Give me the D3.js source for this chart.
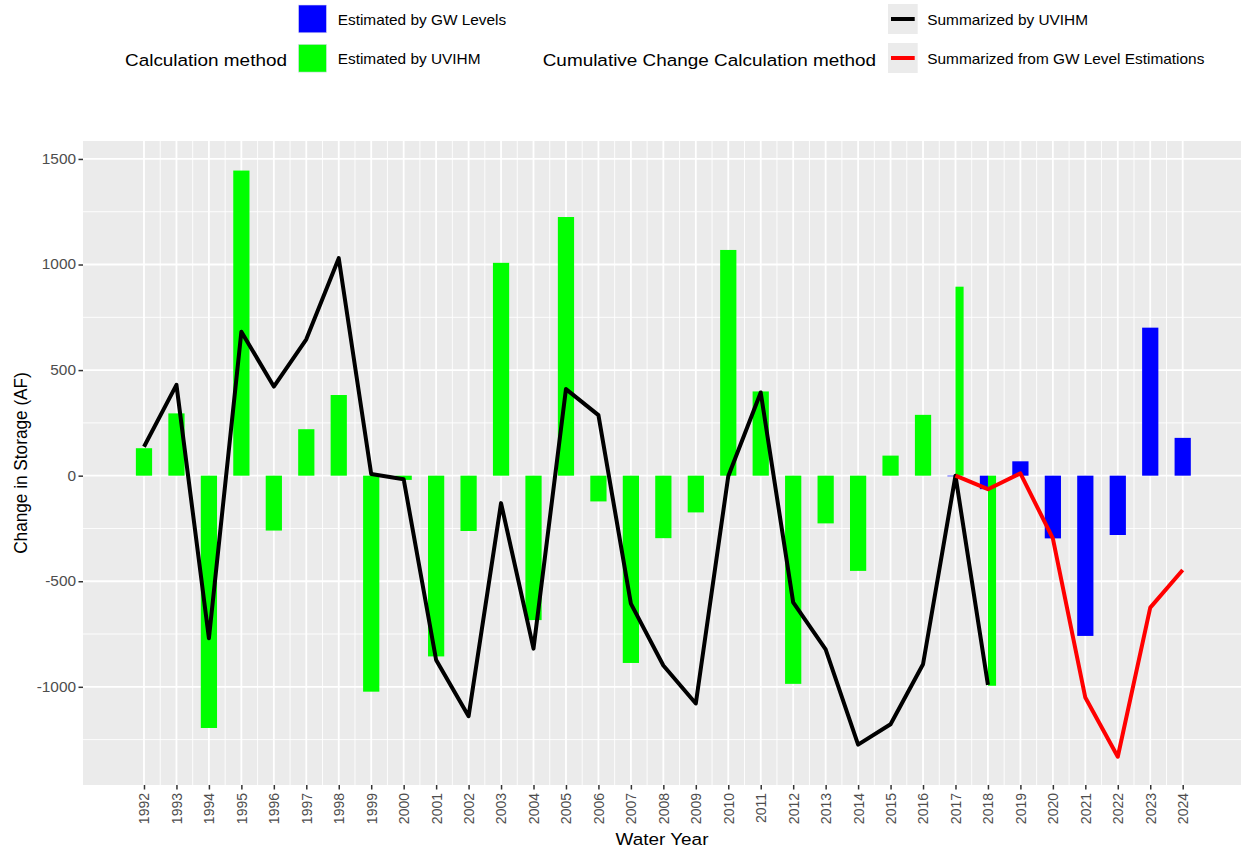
<!DOCTYPE html>
<html>
<head>
<meta charset="utf-8">
<script src="https://cdn.jsdelivr.net/npm/d3@7"></script>
<style>
  body { margin: 0; background: #fff; }
  text { font-family: "Liberation Sans", Arial, sans-serif; }
</style>
</head>
<body>
<script>
// ================================
// DATA
// ================================
var years = d3.range(1992, 2025);

// bars: yearly change estimated by UVIHM model (1992-2018)
var uvihmYears = d3.range(1992, 2019);
var uvihmBars = [130, 295, -1195, 1445, -260, 220, 382, -1023, -20, -856,
                 -262, 1008, -684, 1225, -122, -887, -296, -174, 1069, 399,
                 -986, -226, -451, 95, 288, 895, -995];

// bars: yearly change estimated by GW levels (2017-2024)
var gwYears = d3.range(2017, 2025);
var gwBars = [-3, -64, 68, -297, -759, -281, 701, 179];

// lines: cumulative change
var uvihmLine = [137, 430, -770, 682, 422, 646, 1030, 8, -17, -873,
                 -1139, -130, -819, 410, 287, -606, -899, -1079, -3, 394,
                 -600, -823, -1274, -1177, -893, 0, -991];
var gwLine = [0, -64, 11, -297, -1051, -1331, -625, -447];

var yTicks = [-1000, -500, 0, 500, 1000, 1500];

var fillLegend = ["Estimated by GW Levels", "Estimated by UVIHM"];
var lineLegend = ["Summarized by UVIHM", "Summarized from GW Level Estimations"];

var GREEN = "#00FF00", BLUE = "#0000FF", RED = "#FF0000";

// ================================
// SETUP
// ================================
var width = 1241, height = 853;
var SX = 1.1;   // text in the reference is a little stretched horizontally

var svg = d3.select("body").append("svg")
    .attr("width", width)
    .attr("height", height);

var panel = {left: 83, right: 1241, top: 141, bottom: 785};

var x = d3.scaleLinear()
    .domain([1990.121, 2025.796])
    .range([panel.left, panel.right]);

var y = d3.scaleLinear()
    .domain([-1465, 1585])
    .range([panel.bottom, panel.top]);

var unit = x(1993) - x(1992);

// helper for stretched text
function addText(g, px, py, str, size, anchor, rot){
    return g.append("text")
        .attr("transform", "translate(" + px + "," + py + ") scale(" + SX + ",1)" + (rot ? " rotate(" + rot + ")" : ""))
        .attr("text-anchor", anchor || "start")
        .style("font-size", size + "px")
        .text(str);
}

// ================================
// PANEL + GRID
// ================================
svg.append("rect")
    .attr("x", panel.left).attr("y", panel.top)
    .attr("width", panel.right - panel.left)
    .attr("height", panel.bottom - panel.top)
    .attr("fill", "#EBEBEB");

var minorX = years.slice(0, -1).map(function(d){ return d + 0.5; });
var minorY = [-1250, -750, -250, 250, 750, 1250];

var grid = svg.append("g");

grid.selectAll(".minorY").data(minorY).enter().append("line")
    .attr("x1", panel.left).attr("x2", panel.right)
    .attr("y1", function(d){ return y(d); }).attr("y2", function(d){ return y(d); })
    .attr("stroke", "#fff").attr("stroke-width", 0.9);

grid.selectAll(".minorX").data(minorX).enter().append("line")
    .attr("y1", panel.top).attr("y2", panel.bottom)
    .attr("x1", function(d){ return x(d); }).attr("x2", function(d){ return x(d); })
    .attr("stroke", "#fff").attr("stroke-width", 0.9);

grid.selectAll(".majorY").data(yTicks).enter().append("line")
    .attr("x1", panel.left).attr("x2", panel.right)
    .attr("y1", function(d){ return y(d); }).attr("y2", function(d){ return y(d); })
    .attr("stroke", "#fff").attr("stroke-width", 1.8);

grid.selectAll(".majorX").data(years).enter().append("line")
    .attr("y1", panel.top).attr("y2", panel.bottom)
    .attr("x1", function(d){ return x(d); }).attr("x2", function(d){ return x(d); })
    .attr("stroke", "#fff").attr("stroke-width", 1.8);

// ================================
// BARS (dodged where both series exist)
// ================================
var barData = [];
uvihmYears.forEach(function(yr, i){
    barData.push({year: yr, value: uvihmBars[i], color: GREEN, side: 1});
});
gwYears.forEach(function(yr, i){
    barData.push({year: yr, value: gwBars[i], color: BLUE, side: -1});
});
barData.forEach(function(d){
    var both = uvihmYears.indexOf(d.year) >= 0 && gwYears.indexOf(d.year) >= 0;
    if (both){
        d.x0 = d.side < 0 ? x(d.year) - unit * 0.25 : x(d.year);
        d.w = unit * 0.25;
    } else {
        d.x0 = x(d.year) - unit * 0.25;
        d.w = unit * 0.5;
    }
});

svg.append("g").selectAll("rect")
    .data(barData)
    .enter()
    .append("rect")
    .attr("x", function(d){ return d.x0; })
    .attr("width", function(d){ return d.w; })
    .attr("y", function(d){ return y(Math.max(0, d.value)); })
    .attr("height", function(d){ return Math.max(0.6, Math.abs(y(d.value) - y(0))); })
    .attr("fill", function(d){ return d.color; });

// ================================
// LINES
// ================================
var line = d3.line()
    .x(function(d){ return x(d[0]); })
    .y(function(d){ return y(d[1]); });

svg.append("path")
    .datum(d3.zip(uvihmYears, uvihmLine))
    .attr("d", line)
    .attr("fill", "none").attr("stroke", "#000")
    .attr("stroke-width", 4).attr("stroke-linejoin", "round");

svg.append("path")
    .datum(d3.zip(gwYears, gwLine))
    .attr("d", line)
    .attr("fill", "none").attr("stroke", RED)
    .attr("stroke-width", 4).attr("stroke-linejoin", "round");

// ================================
// AXES
// ================================
var yAxis = svg.append("g")
    .attr("transform", "translate(" + panel.left + ",0)")
    .call(d3.axisLeft(y).tickValues(yTicks).tickSize(4.5).tickFormat(d3.format("d")));
yAxis.select(".domain").remove();
yAxis.selectAll("line").attr("stroke", "#333").attr("stroke-width", 1.5);
yAxis.selectAll("text").remove();
yTicks.forEach(function(t){
    addText(yAxis, -7, y(t), t, 14, "end")
        .attr("dy", "0.35em").attr("fill", "#4D4D4D");
});

var xAxis = svg.append("g")
    .attr("transform", "translate(0," + panel.bottom + ")")
    .call(d3.axisBottom(x).tickValues(years).tickSize(4.5).tickFormat(d3.format("d")));
xAxis.select(".domain").remove();
xAxis.selectAll("line").attr("stroke", "#333").attr("stroke-width", 1.5);
xAxis.selectAll("text").remove();
years.forEach(function(yr){
    addText(xAxis, x(yr), 8, yr, 14, "end", -90)
        .attr("dy", "0.35em").attr("fill", "#4D4D4D");
});

// axis titles
addText(svg, (panel.left + panel.right) / 2, 845, "Water Year", 17.2, "middle");
addText(svg, 27, (panel.top + panel.bottom) / 2, "Change in Storage (AF)", 17.2, "middle", -90);

// ================================
// LEGENDS
// ================================
var legend = svg.append("g");

addText(legend, 125, 66, "Calculation method", 17.2, "start");
[BLUE, GREEN].forEach(function(c, i){
    legend.append("rect")
        .attr("x", 298.5).attr("y", 5 + i * 39.3)
        .attr("width", 28).attr("height", 27.8)
        .attr("fill", c).attr("stroke", "#dcdcf0").attr("stroke-width", 0.6);
    addText(legend, 337.7, 25 + i * 39.3, fillLegend[i], 14, "start");
});

addText(legend, 542.7, 66, "Cumulative Change Calculation method", 17.2, "start");
["#000", RED].forEach(function(c, i){
    legend.append("rect")
        .attr("x", 888).attr("y", 4 + i * 39)
        .attr("width", 29.7).attr("height", 30)
        .attr("fill", "#EBEBEB");
    legend.append("line")
        .attr("x1", 891).attr("x2", 914.7)
        .attr("y1", 19 + i * 39).attr("y2", 19 + i * 39)
        .attr("stroke", c).attr("stroke-width", 4);
    addText(legend, 927.3, 25 + i * 38.7, lineLegend[i], 14, "start");
});
</script>
</body>
</html>
